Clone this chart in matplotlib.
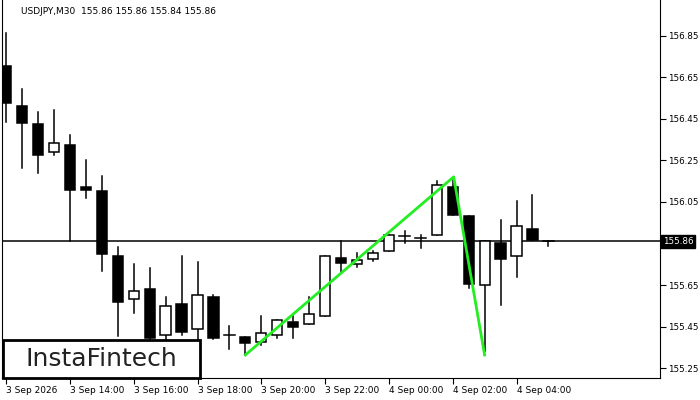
import matplotlib.pyplot as plt
from matplotlib.patches import Rectangle
import matplotlib.transforms as mtransforms

# candle data (M30)
opens = [156.705, 156.513, 156.426, 156.291, 156.325, 156.122, 156.103, 155.790, 155.583, 155.631,
         155.409, 155.559, 155.438, 155.592, 155.409, 155.399, 155.375, 155.409, 155.472, 155.462,
         155.501, 155.780, 155.751, 155.775, 155.814, 155.886, 155.877, 155.891, 156.122, 155.983,
         155.650, 155.852, 155.790, 155.920, 155.862]
highs = [156.864, 156.595, 156.484, 156.493, 156.373, 156.252, 156.175, 155.833, 155.751, 155.732,
         155.592, 155.790, 155.761, 155.602, 155.452, 155.399, 155.501, 155.481, 155.501, 155.592,
         155.790, 155.862, 155.804, 155.814, 155.891, 155.910, 155.891, 156.151, 156.156, 155.983,
         155.862, 155.963, 156.055, 156.084, 155.862]
lows = [156.436, 156.214, 156.190, 156.277, 155.862, 156.069, 155.717, 155.404, 155.515, 155.361,
        155.385, 155.409, 155.385, 155.390, 155.342, 155.313, 155.361, 155.395, 155.395, 155.462,
        155.501, 155.713, 155.737, 155.766, 155.814, 155.852, 155.828, 155.891, 155.987, 155.636,
        155.332, 155.554, 155.689, 155.867, 155.838]
closes = [156.527, 156.431, 156.277, 156.334, 156.108, 156.108, 155.799, 155.568, 155.621, 155.395,
          155.549, 155.424, 155.602, 155.395, 155.407, 155.371, 155.419, 155.481, 155.448, 155.510,
          155.790, 155.756, 155.771, 155.804, 155.891, 155.884, 155.874, 156.132, 155.987, 155.655,
          155.862, 155.775, 155.934, 155.867, 155.862]

# pattern line (index, price)
pattern_x = [15, 28.06, 30]
pattern_y = [155.313, 156.171, 155.313]

current = 155.86
price_ticks = [156.85, 156.65, 156.45, 156.25, 156.05, 155.65, 155.45, 155.25]
time_idx = [0, 4, 8, 12, 16, 20, 24, 28, 32]
time_labels = ['3 Sep 2026', '3 Sep 14:00', '3 Sep 16:00', '3 Sep 18:00', '3 Sep 20:00',
               '3 Sep 22:00', '4 Sep 00:00', '4 Sep 02:00', '4 Sep 04:00']

fig = plt.figure(figsize=(7, 4), dpi=100)
ax = fig.add_axes([0.003, 0.055, 0.94, 0.945])
ax.set_xlim(-0.25, 41)
ax.set_ylim(155.202, 157.023)

lw = 1.1
for i in range(len(opens)):
    o, h, l, c = opens[i], highs[i], lows[i], closes[i]
    ax.plot([i, i], [l, h], color='black', lw=lw, zorder=2)
    bottom = min(o, c)
    height = abs(c - o)
    if height < 0.006:
        ax.plot([i - 0.35, i + 0.35], [o, o], color='black', lw=lw, zorder=3)
        continue
    face = 'white' if c > o else 'black'
    ax.add_patch(Rectangle((i - 0.32, bottom), 0.64, height, facecolor=face,
                           edgecolor='black', lw=lw, zorder=3))

ax.axhline(current, color='black', lw=1.1, zorder=1)
ax.plot(pattern_x, pattern_y, color='#22ee22', lw=2, zorder=4)

ax.yaxis.tick_right()
ax.set_yticks(price_ticks)
ax.set_yticklabels([f'{p:.2f}' for p in price_ticks], fontsize=6.3)
ax.tick_params(axis='y', length=4, pad=2)
ax.set_xticks(time_idx)
ax.set_xticklabels(time_labels, fontsize=6.5, ha='left')
ax.tick_params(axis='x', length=4, pad=2)
ax.spines['top'].set_visible(False)

trans = mtransforms.blended_transform_factory(ax.transAxes, ax.transData)
ax.text(1.004, current, f'{current:.2f}', transform=trans, fontsize=6.3, color='white',
        va='center', ha='left', bbox=dict(facecolor='black', edgecolor='black', pad=1.5))

fig.text(0.03, 0.972, 'USDJPY,M30  155.86 155.86 155.84 155.86', fontsize=6.5, va='center')

# logo box
fig.patches.append(Rectangle((3 / 700, 22 / 400), 197 / 700, 38 / 400, transform=fig.transFigure,
                             facecolor='white', edgecolor='black', lw=2, zorder=10))
fig.text(101 / 700, 41 / 400, 'InstaFintech', fontsize=18, color='#222222', fontweight='medium',
         ha='center', va='center', zorder=11)

fig.savefig('out.png', dpi=100)
